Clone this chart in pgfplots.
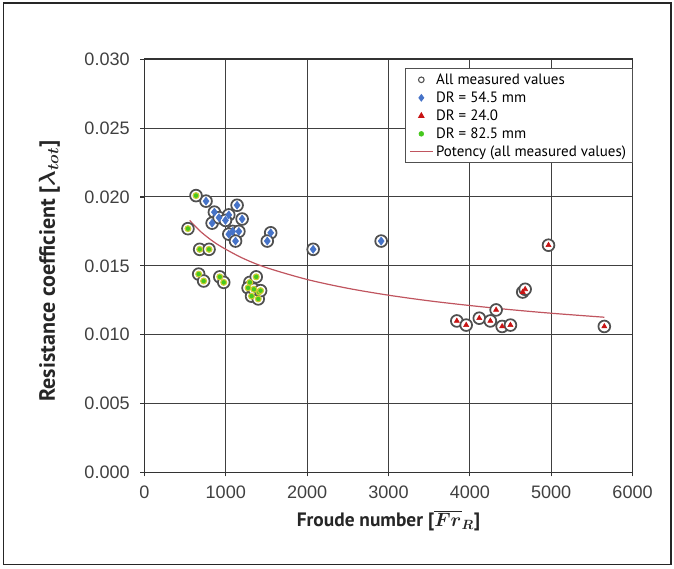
\documentclass[border=0pt]{standalone}
\usepackage{amsmath}
\usepackage{pgfplots}
\pgfplotsset{compat=1.18}
\usepackage{pgfplotstable}
\usepackage{fontspec}
\setmainfont{Liberation Sans}
\newfontfamily\ptsans{PT Sans}

\definecolor{ringgray}{RGB}{80,80,80}
\definecolor{ptblue}{RGB}{70,115,200}
\definecolor{ptred}{RGB}{200,20,20}
\definecolor{ptgreen}{RGB}{70,200,30}
\definecolor{ptyellow}{RGB}{205,205,50}
\definecolor{fitred}{RGB}{192,85,95}

% DR = 54.5 mm
\pgfplotstableread{
x y
757 0.0197
860 0.0189
1139 0.0194
832 0.0181
917 0.0185
1037 0.0187
996 0.0183
1201 0.0184
1085 0.0175
1037 0.0173
1161 0.0175
1120 0.0168
1552 0.0174
1510 0.0168
2074 0.0162
2910 0.0168
}\dra
% DR = 24.0
\pgfplotstableread{
x y
4967 0.0165
4650 0.0131
4680 0.0133
4323 0.0118
3840 0.0110
3955 0.0107
4116 0.0112
4252 0.0110
4397 0.0106
4499 0.0107
5653 0.0106
}\drb
% DR = 82.5 mm
\pgfplotstableread{
x y
634 0.0201
535 0.0177
679 0.0162
794 0.0162
667 0.0144
728 0.0139
926 0.0142
975 0.0138
1296 0.0138
1374 0.0142
1274 0.0134
1407 0.0131
1317 0.0128
1399 0.0126
1346 0.0133
1428 0.0132
}\drc

\begin{document}
\begin{tikzpicture}
  \begin{axis}[
      scale only axis, width=365pt, height=309pt,
      xmin=0, xmax=6000, ymin=0, ymax=0.03,
      xtick={0,1000,2000,3000,4000,5000,6000},
      ytick={0,0.005,0.01,0.015,0.02,0.025,0.03},
      xtick pos=left, ytick pos=left,
      scaled y ticks=false,
      x tick label style={/pgf/number format/1000 sep={}, yshift=-3.5pt},
      y tick label style={/pgf/number format/fixed, /pgf/number format/fixed zerofill,
        /pgf/number format/precision=3, xshift=-4.5pt},
      tick label style={font=\fontsize{13.5}{15}\selectfont, color=black!75,
        /pgf/number format/assume math mode=true},
      grid=major, grid style={black!75, line width=0.75pt},
      axis line style={black!80, line width=1.2pt},
      tick align=outside, major tick length=3pt,
      tick style={black!80, line width=0.8pt},
      xlabel={\ptsans\bfseries Froude number [$\boldsymbol{\overline{Fr}_R}$]},
      ylabel={\ptsans\bfseries Resistance coefficient [$\boldsymbol{\lambda_{tot}}$]},
      label style={color=black!85},
      xlabel style={font=\fontsize{14.5}{16}\selectfont,
        at={(axis description cs:0.5,0)}, anchor=center, yshift=-36pt},
      ylabel style={font=\fontsize{16.5}{18}\selectfont,
        at={(axis description cs:0,0.488)}, anchor=center, yshift=71pt},
      legend style={at={(1,0.978)}, anchor=north east, draw=ringgray, line width=0.7pt,
        fill=white, font=\ptsans\fontsize{11.2}{13.5}\selectfont,
        inner xsep=2.5pt, inner ysep=1.5pt},
      legend cell align=left,
    ]
    % rings of all measured values
    \addplot[only marks, mark=*, mark size=4.4pt,
      mark options={draw=ringgray, line width=1.3pt, fill=white},
      legend image post style={mark size=2.1pt,
        mark options={draw=ringgray, fill=white, line width=0.8pt}}]
      table[x=x, y=y] {\dra};
    \addlegendentry{All measured values}
    \addplot[forget plot, only marks, mark=*, mark size=4.4pt,
      mark options={draw=ringgray, line width=1.3pt, fill=white}]
      table[x=x, y=y] {\drb};
    \addplot[forget plot, only marks, mark=*, mark size=4.4pt,
      mark options={draw=ringgray, line width=1.3pt, fill=white}]
      table[x=x, y=y] {\drc};
    % coloured groups
    \addplot[only marks, mark=diamond*, mark size=3pt,
      mark options={draw=ptblue, fill=ptblue},
      legend image post style={mark size=2.4pt}]
      table[x=x, y=y] {\dra};
    \addlegendentry{DR = 54.5 mm}
    \addplot[only marks, mark=triangle*, mark size=2.2pt,
      mark options={draw=ptred, fill=ptred}]
      table[x=x, y=y] {\drb};
    \addlegendentry{DR = 24.0}
    \addplot[only marks, mark=*, mark size=2.2pt,
      mark options={draw=ptyellow, line width=0.8pt, fill=ptgreen},
      legend image post style={mark size=1.8pt,
        mark options={draw=ptgreen, fill=ptgreen, line width=0.4pt}}]
      table[x=x, y=y] {\drc};
    \addlegendentry{DR = 82.5 mm}
    % power fit
    \addplot[color=fitred, line width=0.9pt, smooth] coordinates {
      (556,0.0183) (700,0.01744) (900,0.01655) (1200,0.01558) (1500,0.01487)
      (2000,0.01401) (2500,0.01337) (3000,0.01287) (3500,0.01246)
      (4000,0.01212) (4500,0.01182) (5000,0.01156) (5653,0.01127)};
    \addlegendentry{Potency (all measured values)}
  \end{axis}
  \draw[black!85, line width=1pt]
    ([xshift=-105.4pt,yshift=-69pt]current axis.south west) rectangle
    ([xshift=28.7pt,yshift=42pt]current axis.north east);
  \path ([xshift=-108pt,yshift=-71.5pt]current axis.south west)
    ([xshift=31pt,yshift=44.3pt]current axis.north east);
\end{tikzpicture}
\end{document}
